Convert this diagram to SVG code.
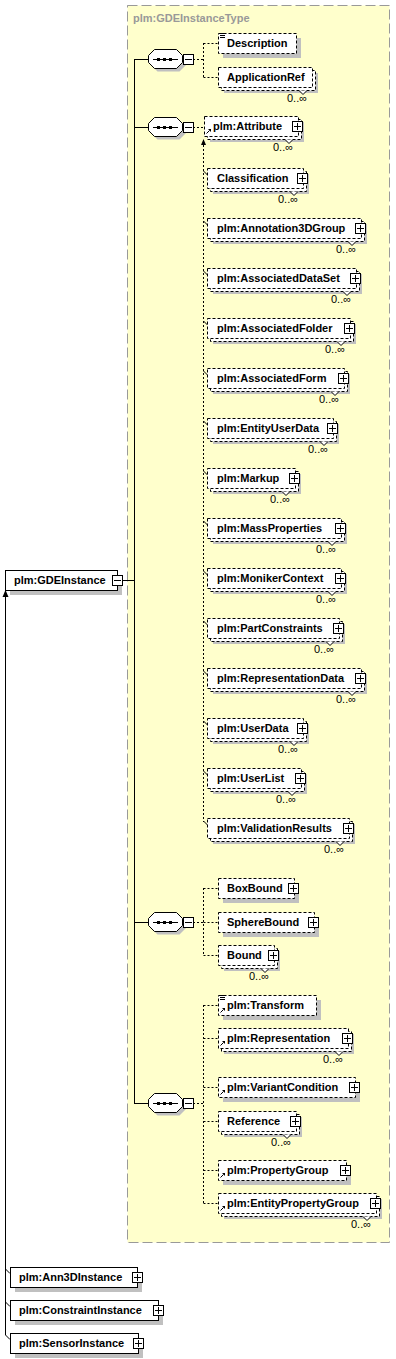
<svg xmlns="http://www.w3.org/2000/svg" width="396" height="1359" viewBox="0 0 396 1359">
<style>
.bx{fill:#fff;stroke:#000;stroke-dasharray:3,2}
.sb{fill:#fff;stroke:#000}
.sh{fill:#c0c0c0}
.t{font-family:"Liberation Sans",Arial,sans-serif;font-size:11px;font-weight:bold;fill:#000}
.o{font-family:"Liberation Sans",Arial,sans-serif;font-size:11px;fill:#000}
.ttl{font-family:"Liberation Sans",Arial,sans-serif;font-size:11px;font-weight:bold;fill:#999}
.c{stroke:#000;fill:none}
.d{stroke:#000;fill:none;stroke-dasharray:2,2}
.nt{fill:#fff;stroke:#000}
</style>
<defs>
<g id="plus"><rect x=".5" y=".5" width="10" height="10" fill="#fff" stroke="#000"/><path d="M2 5.5H9M5.5 2V9" stroke="#000"/></g>
<g id="minus"><rect x=".5" y=".5" width="10" height="10" fill="#fff" stroke="#000"/><path d="M2 5.5H9" stroke="#000"/></g>
<g id="doc"><path d="M0 .5H5M0 2.5H5M0 4.5H5" stroke="#000"/></g>
<g id="ref"><path d="M1.5 6.5L4.5 3.5" stroke="#000"/><path d="M3 2H6V5Z" fill="#000"/></g>
<g id="oct">
<polygon class="sh" points="157.5,-6.5 179.5,-6.5 185.5,-0.5 185.5,6.5 179.5,12.5 157.5,12.5 151.5,6.5 151.5,-0.5"/>
<polygon class="sb" points="154.5,-9.5 176.5,-9.5 182.5,-3.5 182.5,3.5 176.5,9.5 154.5,9.5 148.5,3.5 148.5,-3.5"/>
<path d="M153 .5H178" stroke="#000"/>
<rect x="157" y="-1" width="3" height="3"/><rect x="163" y="-1" width="3" height="3"/><rect x="169" y="-1" width="3" height="3"/>
</g>
</defs>

<rect x="127.5" y="5.5" width="262" height="1237" fill="#ffffcc" stroke="#999" stroke-dasharray="10,4"/>
<text class="ttl" x="133" y="22">plm:GDEInstanceType</text>

<g id="connectors">
<path class="c" d="M122 580.5H134.5M134.5 59V1104M134 59.5H148M134 127.5H148M134 922.5H148M134 1103.5H148"/>
<path class="c" d="M5.5 596V1335M5.5 1269L10 1273.5M5.5 1302L10 1306.5M5.5 1335L10 1339.5"/>
<polygon points="5.5,590 2.5,597 8.5,597"/>
<path class="d" d="M193 59.5H203.5M203.5 43V78M203.5 43.5H218M203.5 77.5H218"/>
<path class="d" d="M193 127.5H204M203.5 145V822"/>
<polygon points="203.5,139 201,145 206,145"/>
<path class="c" d="M203.5 171L207.5 175M203.5 221L207.5 225M203.5 271L207.5 275M203.5 321L207.5 325M203.5 371L207.5 375M203.5 421L207.5 425M203.5 471L207.5 475M203.5 521L207.5 525M203.5 571L207.5 575M203.5 621L207.5 625M203.5 671L207.5 675M203.5 721L207.5 725M203.5 771L207.5 775M203.5 821L207.5 825"/>
<path class="d" d="M193 922.5H203.5M203.5 888V956M203.5 888.5H218M203.5 922.5H218M203.5 955.5H218"/>
<path class="d" d="M193 1103.5H203.5M203.5 1005V1204M203.5 1005.5H218M203.5 1038.5H218M203.5 1087.5H218M203.5 1121.5H218M203.5 1170.5H218M203.5 1203.5H218"/>
</g>

<g id="seq1"><use href="#oct" y="59"/><use href="#minus" x="183" y="54"/></g>
<g id="seq2"><use href="#oct" y="127"/><use href="#minus" x="183" y="122"/></g>
<g id="seq3"><use href="#oct" y="922"/><use href="#minus" x="183" y="917"/></g>
<g id="seq4"><use href="#oct" y="1103"/><use href="#minus" x="183" y="1098"/></g>

<g id="GDEInstance"><rect class="sh" x="10" y="575" width="112" height="20"/><rect class="sb" x="5.5" y="570.5" width="112" height="20"/><use href="#minus" x="112" y="575"/><text class="t" x="14" y="584">plm:GDEInstance</text></g>

<g id="Description"><rect class="sh" x="223" y="38" width="78" height="20"/><rect class="bx" x="218.5" y="33.5" width="78" height="20"/><use href="#doc" x="220" y="33"/><text class="t" x="227" y="47">Description</text></g>
<g id="ApplicationRef"><rect class="sh" x="224" y="73" width="94" height="20"/><rect class="bx" x="221.5" y="70.5" width="94" height="20"/><rect class="bx" x="218.5" y="67.5" width="94" height="20"/><path class="nt" d="M299 90.5L303 94.5L307 90.5"/><text class="t" x="227" y="81">ApplicationRef</text><text class="o" x="287" y="102">0..∞</text></g>

<g id="Attribute"><rect class="sh" x="210" y="122" width="94" height="20"/><rect class="bx" x="207.5" y="119.5" width="94" height="20"/><rect class="bx" x="204.5" y="116.5" width="94" height="20"/><path class="nt" d="M285 139.5L289 143.5L293 139.5"/><use href="#plus" x="292" y="121"/><use href="#ref" x="205" y="127"/><text class="t" x="213" y="130">plm:Attribute</text><text class="o" x="273" y="151">0..∞</text></g>
<g id="Classification"><rect class="sh" x="213" y="174" width="96" height="20"/><rect class="bx" x="210.5" y="171.5" width="96" height="20"/><rect class="bx" x="207.5" y="168.5" width="96" height="20"/><path class="nt" d="M290 191.5L294 195.5L298 191.5"/><use href="#plus" x="297" y="173"/><text class="t" x="217" y="182">Classification</text><text class="o" x="278" y="203">0..∞</text></g>
<g id="Annotation3DGroup"><rect class="sh" x="213" y="224" width="154" height="20"/><rect class="bx" x="210.5" y="221.5" width="154" height="20"/><rect class="bx" x="207.5" y="218.5" width="154" height="20"/><path class="nt" d="M348 241.5L352 245.5L356 241.5"/><use href="#plus" x="355" y="223"/><text class="t" x="217" y="232">plm:Annotation3DGroup</text><text class="o" x="336" y="253">0..∞</text></g>
<g id="AssociatedDataSet"><rect class="sh" x="213" y="274" width="149" height="20"/><rect class="bx" x="210.5" y="271.5" width="149" height="20"/><rect class="bx" x="207.5" y="268.5" width="149" height="20"/><path class="nt" d="M343 291.5L347 295.5L351 291.5"/><use href="#plus" x="350" y="273"/><text class="t" x="217" y="282">plm:AssociatedDataSet</text><text class="o" x="331" y="303">0..∞</text></g>
<g id="AssociatedFolder"><rect class="sh" x="213" y="324" width="143" height="20"/><rect class="bx" x="210.5" y="321.5" width="143" height="20"/><rect class="bx" x="207.5" y="318.5" width="143" height="20"/><path class="nt" d="M337 341.5L341 345.5L345 341.5"/><use href="#plus" x="344" y="323"/><text class="t" x="217" y="332">plm:AssociatedFolder</text><text class="o" x="325" y="353">0..∞</text></g>
<g id="AssociatedForm"><rect class="sh" x="213" y="374" width="137" height="20"/><rect class="bx" x="210.5" y="371.5" width="137" height="20"/><rect class="bx" x="207.5" y="368.5" width="137" height="20"/><path class="nt" d="M331 391.5L335 395.5L339 391.5"/><use href="#plus" x="338" y="373"/><text class="t" x="217" y="382">plm:AssociatedForm</text><text class="o" x="319" y="403">0..∞</text></g>
<g id="EntityUserData"><rect class="sh" x="213" y="424" width="126" height="20"/><rect class="bx" x="210.5" y="421.5" width="126" height="20"/><rect class="bx" x="207.5" y="418.5" width="126" height="20"/><path class="nt" d="M320 441.5L324 445.5L328 441.5"/><use href="#plus" x="327" y="423"/><text class="t" x="217" y="432">plm:EntityUserData</text><text class="o" x="308" y="453">0..∞</text></g>
<g id="Markup"><rect class="sh" x="213" y="474" width="88" height="20"/><rect class="bx" x="210.5" y="471.5" width="88" height="20"/><rect class="bx" x="207.5" y="468.5" width="88" height="20"/><path class="nt" d="M282 491.5L286 495.5L290 491.5"/><use href="#plus" x="289" y="473"/><text class="t" x="217" y="482">plm:Markup</text><text class="o" x="270" y="503">0..∞</text></g>
<g id="MassProperties"><rect class="sh" x="213" y="524" width="134" height="20"/><rect class="bx" x="210.5" y="521.5" width="134" height="20"/><rect class="bx" x="207.5" y="518.5" width="134" height="20"/><path class="nt" d="M328 541.5L332 545.5L336 541.5"/><use href="#plus" x="335" y="523"/><text class="t" x="217" y="532">plm:MassProperties</text><text class="o" x="316" y="553">0..∞</text></g>
<g id="MonikerContext"><rect class="sh" x="213" y="574" width="134" height="20"/><rect class="bx" x="210.5" y="571.5" width="134" height="20"/><rect class="bx" x="207.5" y="568.5" width="134" height="20"/><path class="nt" d="M328 591.5L332 595.5L336 591.5"/><use href="#plus" x="335" y="573"/><text class="t" x="217" y="582">plm:MonikerContext</text><text class="o" x="316" y="603">0..∞</text></g>
<g id="PartConstraints"><rect class="sh" x="213" y="624" width="132" height="20"/><rect class="bx" x="210.5" y="621.5" width="132" height="20"/><rect class="bx" x="207.5" y="618.5" width="132" height="20"/><path class="nt" d="M326 641.5L330 645.5L334 641.5"/><use href="#plus" x="333" y="623"/><text class="t" x="217" y="632">plm:PartConstraints</text><text class="o" x="314" y="653">0..∞</text></g>
<g id="RepresentationData"><rect class="sh" x="213" y="674" width="154" height="20"/><rect class="bx" x="210.5" y="671.5" width="154" height="20"/><rect class="bx" x="207.5" y="668.5" width="154" height="20"/><path class="nt" d="M348 691.5L352 695.5L356 691.5"/><use href="#plus" x="355" y="673"/><text class="t" x="217" y="682">plm:RepresentationData</text><text class="o" x="336" y="703">0..∞</text></g>
<g id="UserData"><rect class="sh" x="213" y="724" width="96" height="20"/><rect class="bx" x="210.5" y="721.5" width="96" height="20"/><rect class="bx" x="207.5" y="718.5" width="96" height="20"/><path class="nt" d="M290 741.5L294 745.5L298 741.5"/><use href="#plus" x="297" y="723"/><text class="t" x="217" y="732">plm:UserData</text><text class="o" x="278" y="753">0..∞</text></g>
<g id="UserList"><rect class="sh" x="213" y="774" width="94" height="20"/><rect class="bx" x="210.5" y="771.5" width="94" height="20"/><rect class="bx" x="207.5" y="768.5" width="94" height="20"/><path class="nt" d="M288 791.5L292 795.5L296 791.5"/><use href="#plus" x="295" y="773"/><text class="t" x="217" y="782">plm:UserList</text><text class="o" x="276" y="803">0..∞</text></g>
<g id="ValidationResults"><rect class="sh" x="213" y="824" width="142" height="20"/><rect class="bx" x="210.5" y="821.5" width="142" height="20"/><rect class="bx" x="207.5" y="818.5" width="142" height="20"/><path class="nt" d="M336 841.5L340 845.5L344 841.5"/><use href="#plus" x="343" y="823"/><text class="t" x="217" y="832">plm:ValidationResults</text><text class="o" x="324" y="853">0..∞</text></g>

<g id="BoxBound"><rect class="sh" x="223" y="883" width="76" height="20"/><rect class="bx" x="218.5" y="878.5" width="76" height="20"/><use href="#plus" x="288" y="883"/><text class="t" x="227" y="892">BoxBound</text></g>
<g id="SphereBound"><rect class="sh" x="223" y="917" width="96" height="20"/><rect class="bx" x="218.5" y="912.5" width="96" height="20"/><use href="#plus" x="308" y="917"/><text class="t" x="227" y="926">SphereBound</text></g>
<g id="Bound"><rect class="sh" x="224" y="951" width="56" height="20"/><rect class="bx" x="221.5" y="948.5" width="56" height="20"/><rect class="bx" x="218.5" y="945.5" width="56" height="20"/><path class="nt" d="M261 968.5L265 972.5L269 968.5"/><use href="#plus" x="268" y="950"/><text class="t" x="227" y="959">Bound</text><text class="o" x="249" y="980">0..∞</text></g>

<g id="Transform"><rect class="sh" x="223" y="1000" width="98" height="20"/><rect class="bx" x="218.5" y="995.5" width="98" height="20"/><use href="#doc" x="220" y="995"/><use href="#ref" x="219" y="1006"/><text class="t" x="227" y="1009">plm:Transform</text></g>
<g id="Representation"><rect class="sh" x="224" y="1034" width="130" height="20"/><rect class="bx" x="221.5" y="1031.5" width="130" height="20"/><rect class="bx" x="218.5" y="1028.5" width="130" height="20"/><path class="nt" d="M335 1051.5L339 1055.5L343 1051.5"/><use href="#plus" x="342" y="1033"/><use href="#ref" x="219" y="1039"/><text class="t" x="227" y="1042">plm:Representation</text><text class="o" x="323" y="1063">0..∞</text></g>
<g id="VariantCondition"><rect class="sh" x="223" y="1082" width="137" height="20"/><rect class="bx" x="218.5" y="1077.5" width="137" height="20"/><use href="#plus" x="349" y="1082"/><use href="#ref" x="219" y="1088"/><text class="t" x="227" y="1091">plm:VariantCondition</text></g>
<g id="Reference"><rect class="sh" x="224" y="1117" width="78" height="20"/><rect class="bx" x="221.5" y="1114.5" width="78" height="20"/><rect class="bx" x="218.5" y="1111.5" width="78" height="20"/><path class="nt" d="M283 1134.5L287 1138.5L291 1134.5"/><use href="#plus" x="290" y="1116"/><text class="t" x="227" y="1125">Reference</text><text class="o" x="271" y="1146">0..∞</text></g>
<g id="PropertyGroup"><rect class="sh" x="223" y="1165" width="128" height="20"/><rect class="bx" x="218.5" y="1160.5" width="128" height="20"/><use href="#plus" x="340" y="1165"/><use href="#ref" x="219" y="1171"/><text class="t" x="227" y="1174">plm:PropertyGroup</text></g>
<g id="EntityPropertyGroup"><rect class="sh" x="224" y="1199" width="158" height="20"/><rect class="bx" x="221.5" y="1196.5" width="158" height="20"/><rect class="bx" x="218.5" y="1193.5" width="158" height="20"/><path class="nt" d="M363 1216.5L367 1220.5L371 1216.5"/><use href="#plus" x="370" y="1198"/><use href="#ref" x="219" y="1204"/><text class="t" x="227" y="1207">plm:EntityPropertyGroup</text><text class="o" x="351" y="1228">0..∞</text></g>

<g id="Ann3DInstance"><rect class="sh" x="15" y="1272" width="127" height="20"/><rect class="sb" x="10.5" y="1267.5" width="127" height="20"/><use href="#plus" x="132" y="1272"/><text class="t" x="19" y="1281">plm:Ann3DInstance</text></g>
<g id="ConstraintInstance"><rect class="sh" x="15" y="1305" width="148" height="20"/><rect class="sb" x="10.5" y="1300.5" width="148" height="20"/><use href="#plus" x="153" y="1305"/><text class="t" x="19" y="1314">plm:ConstraintInstance</text></g>
<g id="SensorInstance"><rect class="sh" x="15" y="1338" width="128" height="20"/><rect class="sb" x="10.5" y="1333.5" width="128" height="20"/><use href="#plus" x="133" y="1338"/><text class="t" x="19" y="1347">plm:SensorInstance</text></g>
</svg>
